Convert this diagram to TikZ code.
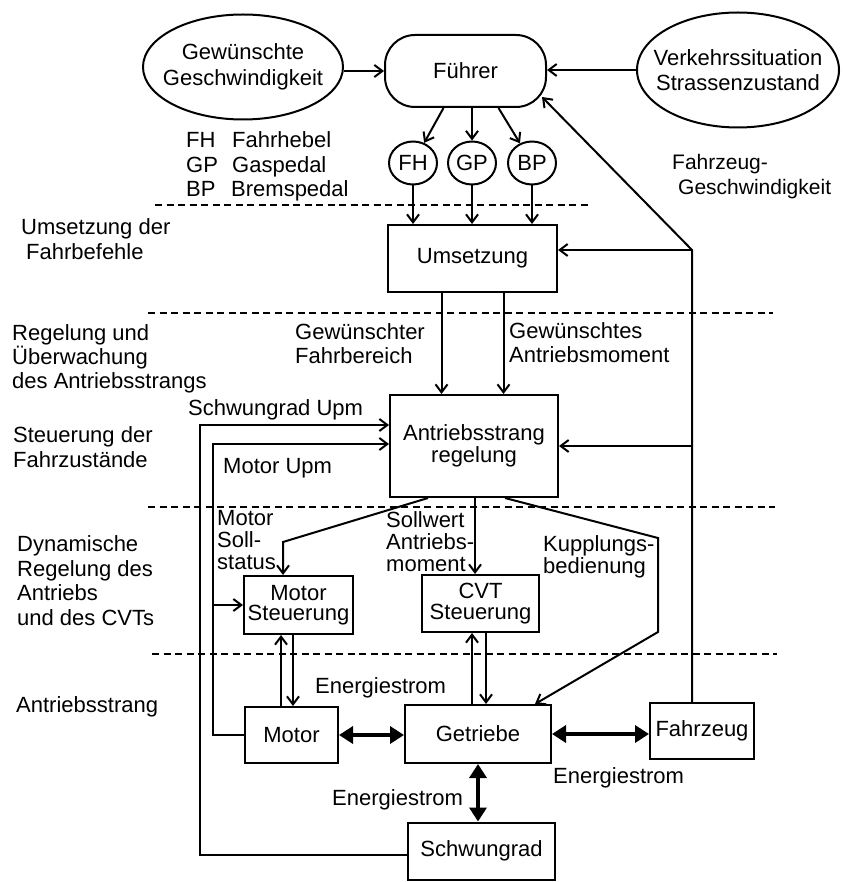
\documentclass[tikz,border=0pt]{standalone}
\usepackage{fontspec}
\setmainfont{Liberation Sans}
\usetikzlibrary{arrows.meta,shapes.geometric}
\begin{document}
\begin{tikzpicture}[x=1pt,y=-1pt,
  every node/.style={font=\fontsize{22}{25}\selectfont, inner sep=0pt},
  box/.style={draw, line width=2pt, rectangle, align=center},
  ell/.style={draw, line width=2pt, ellipse},
  lbl/.style={anchor=base west, align=left},
  arr/.style={line width=2pt, arrows={-Straight Barb[length=8pt,width=12pt]}},
  bigarr/.style={line width=3.5pt, arrows={Triangle[length=14pt,width=17pt]-Triangle[length=14pt,width=17pt]}},
  sep/.style={line width=1.3pt, dash pattern=on 7pt off 4.5pt},
]
\useasboundingbox (0,0) rectangle (842,882);

% top row
\node[ell, minimum width=200pt, minimum height=105pt,
  label={[align=center, font=\fontsize{22}{26}\selectfont]center:Gewünschte\\Geschwindigkeit}] (ges) at (243,67) {};
\node[draw, line width=2pt, rectangle, rounded corners=30pt, minimum width=161pt, minimum height=72pt] (fuehrer) at (465.5,71) {Führer};
\node[ell, minimum width=202pt, minimum height=115pt,
  label={[align=center, font=\fontsize{22}{25}\selectfont]center:Verkehrssituation\\Strassenzustand}] (verk) at (738,70) {};

\node[ell, minimum width=48pt, minimum height=43pt] (fh) at (413,163) {FH};
\node[ell, minimum width=48pt, minimum height=43pt] (gp) at (472,163) {GP};
\node[ell, minimum width=48pt, minimum height=43pt] (bp) at (532,163) {BP};

% boxes
\node[box, minimum width=169pt, minimum height=67pt] (ums) at (472.5,258.5) {Umsetzung};
\node[box, minimum width=168pt, minimum height=102pt, font=\fontsize{22}{22}\selectfont] (ar) at (474,446) {Antriebsstrang\\regelung};
\node[box, minimum width=109pt, minimum height=58pt, font=\fontsize{22}{20.5}\selectfont] (ms) at (298.5,605) {Motor\\Steuerung};
\node[box, minimum width=117pt, minimum height=57pt, font=\fontsize{22}{20.5}\selectfont] (cvt) at (480.5,603.5) {CVT\\Steuerung};
\node[box, minimum width=93pt, minimum height=56pt] (motor) at (291.5,735) {Motor};
\node[box, minimum width=146pt, minimum height=58pt] (getr) at (478,734) {Getriebe};
\node[box, minimum width=104pt, minimum height=56pt] (fzg) at (702,731) {Fahrzeug};
\node[box, minimum width=147pt, minimum height=57pt] (schw) at (481.5,851) {Schwungrad};

% dashed separators
\draw[sep] (155,205) -- (590,205);
\draw[sep] (148,313) -- (773,313);
\draw[sep] (148,507) -- (775,507);
\draw[sep] (152,654) -- (777,654);

% helper coordinates
\coordinate (fzv) at (692,250);
\coordinate (fhin) at (542,97);
\coordinate (m1) at (283,542);
\coordinate (c1) at (475,0);
\coordinate (k1) at (658,538);
\coordinate (k2) at (658,632);
\coordinate (xa) at (281,0);
\coordinate (xb) at (293,0);
\coordinate (xc) at (472,0);
\coordinate (xd) at (486,0);
\coordinate (xs) at (200,425);
\coordinate (xm) at (213,444);

% connectors top
\draw[arr] (ges.east |- fuehrer.west) -- (fuehrer.west);
\draw[arr] (verk.west) -- (verk.west -| fuehrer.east);
\draw[arr] ([xshift=-22pt]fuehrer.south) -- (fh);
\draw[arr] (fuehrer.south -| gp) -- (gp);
\draw[arr] ([xshift=33pt]fuehrer.south) -- (bp);
\draw[arr] (fh.south) -- (fh.south |- ums.north);
\draw[arr] (gp.south) -- (gp.south |- ums.north);
\draw[arr] (bp.south) -- (bp.south |- ums.north);

% vehicle speed feedback
\draw[arr] (fzg.north -| fzv) -- (fzv) -- (fhin);
\draw[arr] (fzv) -- (fzv -| ums.east);
\draw[arr] (fzv |- ar.east) -- (ar.east);

% Umsetzung -> Antriebsstrang regelung
\draw[arr] ([xshift=-31pt]ums.south) -- ([xshift=-31pt]ums.south |- ar.north);
\draw[arr] ([xshift=31pt]ums.south) -- ([xshift=31pt]ums.south |- ar.north);

% Antriebsstrang regelung outputs
\draw[arr] ([xshift=-46pt]ar.south) -- (m1) -- (m1 |- ms.north);
\draw[arr] (ar.south -| c1) -- (c1 |- cvt.north);
\draw[arr] ([xshift=31pt]ar.south) -- (k1) -- (k2) -- ([xshift=57pt]getr.north);

% control <-> plant
\draw[arr] (motor.north -| xa) -- (ms.south -| xa);
\draw[arr] (ms.south -| xb) -- (motor.north -| xb);
\draw[arr] (getr.north -| xc) -- (cvt.south -| xc);
\draw[arr] (cvt.south -| xd) -- (getr.north -| xd);

% energy flows
\draw[bigarr] (motor.east) -- (motor.east -| getr.west);
\draw[bigarr] (getr.east) -- (getr.east -| fzg.west);
\draw[bigarr] (getr.south) -- (getr.south |- schw.north);

% left feedback loops
\draw[arr] ([yshift=-4pt]schw.west) -| (xs) -- (xs -| ar.west);
\draw[arr] (motor.west) -| (xm) -- (xm -| ar.west);
\draw[arr] (xm |- ms.west) -- (ms.west);

% labels (base anchor = baseline of last line)
\node[lbl, font=\fontsize{22}{24.5}\selectfont] (leg) at (186,197)
  {\makebox[46pt][l]{FH}Fahrhebel\\\makebox[46pt][l]{GP}Gaspedal\\\makebox[45pt][l]{BP}Bremspedal};
\node[lbl] (l1) at (21,260) {Umsetzung der\\\hspace*{5pt}Fahrbefehle};
\node[lbl, font=\fontsize{21}{25}\selectfont] (l2) at (672,195) {Fahrzeug-\\\hspace*{6pt}Geschwindigkeit};
\node[lbl, font=\fontsize{22}{24}\selectfont] (l3) at (12,388) {Regelung und\\Überwachung\\des Antriebsstrangs};
\node[lbl, font=\fontsize{22}{23.5}\selectfont] (l4) at (295,363) {Gewünschter\\Fahrbereich};
\node[lbl, font=\fontsize{22}{24}\selectfont] (l5) at (509,362) {Gewünschtes\\Antriebsmoment};
\node[lbl] (l6) at (188,415) {Schwungrad Upm};
\node[lbl] (l7) at (13,467) {Steuerung der\\Fahrzustände};
\node[lbl] (l8) at (223,473) {Motor Upm};
\node[lbl, font=\fontsize{22}{22}\selectfont] (l9) at (217,569) {Motor\\Soll-\\status};
\node[lbl, font=\fontsize{22}{22}\selectfont] (l10) at (386,571) {Sollwert\\Antriebs-\\moment};
\node[lbl, font=\fontsize{22}{21.5}\selectfont] (l11) at (543,573) {Kupplungs-\\bedienung};
\node[lbl, font=\fontsize{22}{24.5}\selectfont] (l12) at (17,625) {Dynamische\\Regelung des\\Antriebs\\und des CVTs};
\node[lbl] (l13) at (16,712) {Antriebsstrang};
\node[lbl] (e1) at (315,693) {Energiestrom};
\node[lbl] (e2) at (553,783) {Energiestrom};
\node[lbl] (e3) at (332,805) {Energiestrom};
\end{tikzpicture}
\end{document}
